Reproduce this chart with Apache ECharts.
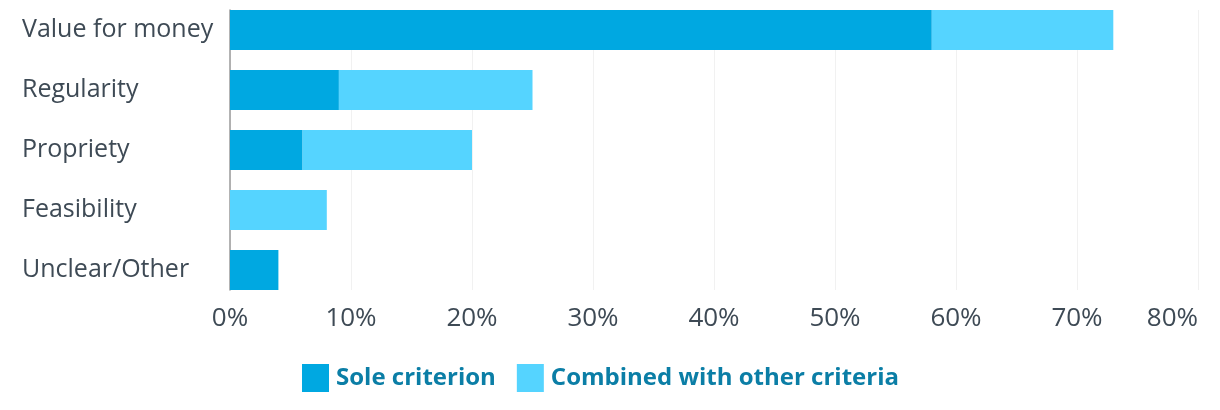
<!DOCTYPE html>
<html>
<head>
<meta charset="utf-8">
<script src="https://cdn.jsdelivr.net/npm/echarts@6/dist/echarts.min.js"></script>
<style>
html,body{margin:0;padding:0;background:#fff;}
#chart{width:1220px;height:410px;}
</style>
</head>
<body>
<div id="chart"></div>
<script>
const categories = ['Value for money', 'Regularity', 'Propriety', 'Feasibility', 'Unclear/Other'];
const soleCriterion = [58, 9, 6, 0, 4];
const combinedWithOther = [15, 16, 14, 8, 0];
const seriesNames = ['Sole criterion', 'Combined with other criteria'];
const xMin = 0, xMax = 80, xStep = 10;

const FONT = '"Open Sans", sans-serif';
const chart = echarts.init(document.getElementById('chart'), null, {renderer: 'canvas'});
chart.setOption({
  animation: false,
  textStyle: {fontFamily: FONT},
  color: ['#00A8E1', '#55D4FF'],
  legend: {
    top: 359,
    left: 297,
    icon: 'rect',
    itemWidth: 27,
    itemHeight: 28,
    itemGap: 21,
    textStyle: {fontFamily: FONT, fontSize: 24, fontWeight: 'bold', color: '#0B7EA6', padding: [0, 0, 0, 2]},
    data: seriesNames
  },
  grid: [
    {left: 230, right: 22, top: 0, height: 300, outerBoundsMode: 'none', containLabel: false},
    {left: 230, right: 22, top: 10, height: 280, outerBoundsMode: 'none', containLabel: false}
  ],
  xAxis: [
    {gridIndex: 0, type: 'value', min: xMin, max: xMax, interval: xStep, show: false},
    {gridIndex: 1, type: 'value', min: xMin, max: xMax, interval: xStep,
     axisLine: {show: false}, axisTick: {show: false},
     splitLine: {show: true, lineStyle: {color: '#F1F1F1', width: 1}},
     axisLabel: {formatter: '{value}%', fontSize: 26, color: '#3E4A55', margin: 16, fontFamily: FONT, alignMaxLabel: 'right'}}
  ],
  yAxis: [
    {gridIndex: 0, type: 'category', data: categories, inverse: true,
     axisLine: {show: false}, axisTick: {show: false}, splitLine: {show: false},
     axisLabel: {align: 'left', margin: 208, fontSize: 25, color: '#3E4A55', fontFamily: FONT}},
    {gridIndex: 1, type: 'category', data: categories, inverse: true,
     axisLine: {show: true, lineStyle: {color: '#9A9A9A', width: 1.5}},
     axisTick: {show: false}, axisLabel: {show: false}, splitLine: {show: false}}
  ],
  series: [
    {name: seriesNames[0], type: 'bar', stack: 'total', xAxisIndex: 0, yAxisIndex: 0,
     barWidth: 40, data: soleCriterion, z: 3},
    {name: seriesNames[1], type: 'bar', stack: 'total', xAxisIndex: 0, yAxisIndex: 0,
     barWidth: 40, data: combinedWithOther, z: 3}
  ]
});
</script>
</body>
</html>
